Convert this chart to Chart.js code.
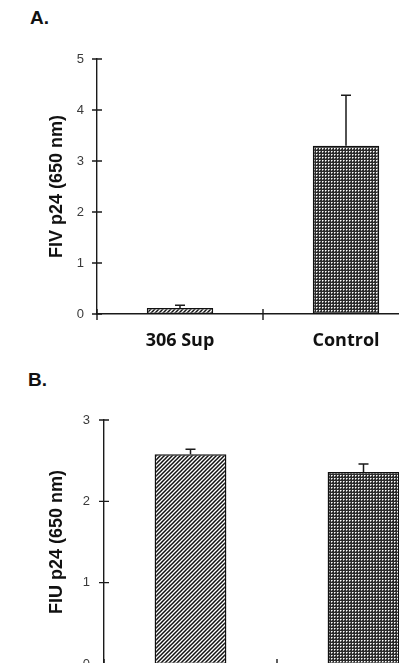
<!DOCTYPE html>
<html><head><meta charset="utf-8">
<script src="https://cdn.jsdelivr.net/npm/chart.js@4.4.1/dist/chart.umd.min.js"></script>
<style>
html,body{margin:0;padding:0;background:#fff;width:399px;height:663px;overflow:hidden;position:relative}
.panel{position:absolute;font:bold 19px "Liberation Sans",Arial,sans-serif;color:#111}
canvas{position:absolute;left:0}
</style></head><body>
<div class="panel" style="left:30px;top:7px">A.</div>
<div class="panel" style="left:28px;top:369px">B.</div>
<canvas id="cA" width="440" height="360" style="top:0"></canvas>
<canvas id="cB" width="460" height="344" style="top:360px"></canvas>
<script>
const categories = ['306 Sup', 'Control'];
const panelAValues = [0.12, 3.30];
const panelAErrors = [0.05, 0.99];
const panelATicks = [0, 1, 2, 3, 4, 5];
const panelATitle = 'FIV p24 (650 nm)';
const panelBValues = [2.58, 2.36];
const panelBErrors = [0.06, 0.10];
const panelBTicks = [0, 1, 2, 3];
const panelBTitle = 'FIU p24 (650 nm)';

function hatchPattern() {
  const c = document.createElement('canvas'); c.width = 4; c.height = 4;
  const g = c.getContext('2d');
  g.fillStyle = '#fff'; g.fillRect(0, 0, 4, 4);
  g.strokeStyle = '#111'; g.lineWidth = 1.5;
  g.beginPath();
  g.moveTo(-1, 5); g.lineTo(5, -1);
  g.moveTo(-1, 1); g.lineTo(1, -1);
  g.moveTo(3, 5); g.lineTo(5, 3);
  g.stroke();
  return g.createPattern(c, 'repeat');
}
function dotPattern() {
  const c = document.createElement('canvas'); c.width = 3; c.height = 3;
  const g = c.getContext('2d');
  g.fillStyle = '#2b2b2b'; g.fillRect(0, 0, 3, 3);
  g.fillStyle = '#ffffff'; g.fillRect(1, 1, 1, 1);
  g.fillStyle = '#a0a0a0'; g.fillRect(2, 1, 1, 1); g.fillRect(1, 2, 1, 1);
  return g.createPattern(c, 'repeat');
}

const errorBarPlugin = {
  id: 'errorBars',
  afterDatasetsDraw(chart, args, opts) {
    const ctx = chart.ctx, ys = chart.scales.y;
    const meta = chart.getDatasetMeta(0);
    const vals = chart.data.datasets[0].data;
    ctx.save();
    ctx.strokeStyle = '#1a1a1a'; ctx.lineWidth = 1.5;
    meta.data.forEach((bar, i) => {
      const top = ys.getPixelForValue(vals[i] + opts.errors[i]);
      ctx.beginPath();
      ctx.moveTo(bar.x, bar.y); ctx.lineTo(bar.x, top);
      ctx.moveTo(bar.x - 5, top); ctx.lineTo(bar.x + 5, top);
      ctx.stroke();
    });
    ctx.restore();
  }
};
const crossTickPlugin = {
  id: 'crossTicks',
  afterDraw(chart) {
    const ctx = chart.ctx, xs = chart.scales.x, ys = chart.scales.y;
    const ax = chart.chartArea.left, ay = chart.chartArea.bottom;
    ctx.save();
    ctx.strokeStyle = '#1a1a1a'; ctx.lineWidth = 1.4;
    ctx.beginPath();
    ys.ticks.forEach(t => {
      const py = ys.getPixelForValue(t.value);
      ctx.moveTo(ax - 5, py); ctx.lineTo(ax + 5, py);
    });
    const c0 = xs.getPixelForValue(0), c1 = xs.getPixelForValue(1), w = c1 - c0;
    for (let i = 0; i <= xs.ticks.length; i++) {
      const px = c0 - w / 2 + i * w;
      ctx.moveTo(px, ay - 5); ctx.lineTo(px, ay + 6);
    }
    ctx.stroke();
    ctx.restore();
  }
};

function makeChart(id, values, errors, ticks, title, cfg) {
  return new Chart(document.getElementById(id), {
    type: 'bar',
    data: {
      labels: categories,
      datasets: [{
        data: values,
        backgroundColor: [hatchPattern(), dotPattern()],
        borderColor: '#111',
        borderWidth: 1.5,
        borderSkipped: false,
        barPercentage: cfg.barPct,
        categoryPercentage: 1
      }]
    },
    options: {
      responsive: false,
      animation: false,
      devicePixelRatio: 1,
      layout: { padding: { left: 0, top: cfg.padTop, right: cfg.padRight, bottom: 0 } },
      plugins: { legend: { display: false }, tooltip: { enabled: false }, errorBars: { errors: errors } },
      scales: {
        x: {
          grid: { display: false, drawTicks: false },
          border: { display: true, color: '#1a1a1a', width: 1.4 },
          ticks: { color: '#111', padding: cfg.xPad, font: { family: '"Open Sans", sans-serif', weight: 'bold', size: 18 } },
          afterFit: s => { s.height = cfg.xHeight; }
        },
        y: {
          min: ticks[0], max: ticks[ticks.length - 1],
          afterBuildTicks: s => { s.ticks = ticks.map(v => ({ value: v })); },
          grid: { display: false, drawTicks: false },
          border: { display: true, color: '#1a1a1a', width: 1.4 },
          ticks: { color: '#3a3a3a', padding: cfg.yPad, font: { family: '"Liberation Sans", Arial, sans-serif', size: 13 } },
          title: { display: true, text: title, color: '#111', padding: { top: 46, bottom: 0 },
                   font: { family: '"Liberation Sans", Arial, sans-serif', weight: 'bold', size: 18 } },
          afterFit: s => { s.width = cfg.yWidth; }
        }
      }
    },
    plugins: [errorBarPlugin, crossTickPlugin]
  });
}

makeChart('cA', panelAValues, panelAErrors, panelATicks, panelATitle,
  { padTop: 59, padRight: 11, xHeight: 46, yWidth: 97, yPad: 13, xPad: 16, barPct: 0.40 });
makeChart('cB', panelBValues, panelBErrors, panelBTicks, panelBTitle,
  { padTop: 60, padRight: 10, xHeight: 40, yWidth: 104, yPad: 14, xPad: 16, barPct: 0.415 });
</script>
</body></html>
